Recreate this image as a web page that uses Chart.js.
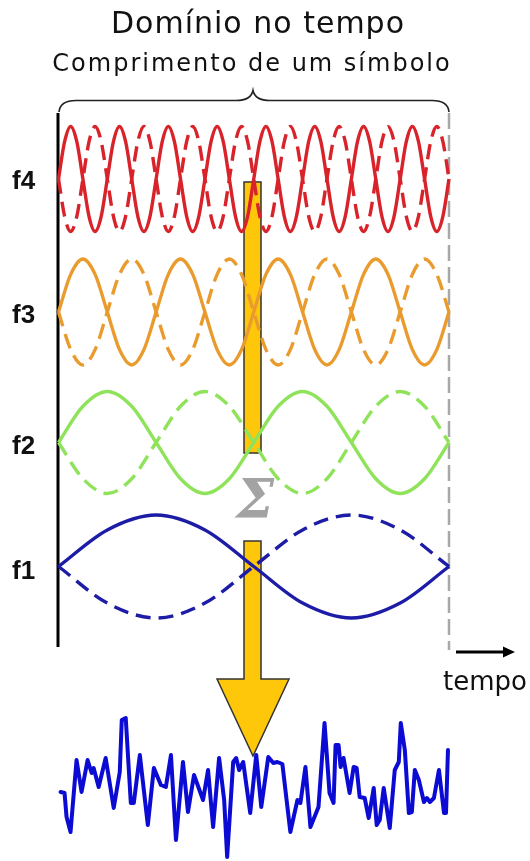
<!DOCTYPE html>
<html>
<head>
<meta charset="utf-8">
<script src="https://cdn.jsdelivr.net/npm/chart.js@4/dist/chart.umd.min.js"></script>
<style>
  html, body { margin: 0; padding: 0; background: #fff; }
  #wrap { position: relative; width: 530px; height: 861px; overflow: hidden; }
  #wrap canvas { position: absolute; left: 0; top: 0; }
  .t { position: absolute; white-space: nowrap; line-height: 1; }
  .title { font-family: "DejaVu Sans", sans-serif; color: #111; text-align: center; }
  .flab { font-family: "Liberation Sans", Arial, sans-serif; font-weight: bold; font-size: 26px; color: #111; left: 12px; }
</style>
</head>
<body>
<div id="wrap">
  <canvas id="c" width="530" height="861"></canvas>
  <div class="t title" style="left:0; width:516px; top:8px; font-size:30px; letter-spacing:1px;">Domínio no tempo</div>
  <div class="t title" style="left:0; width:504px; top:51px; font-size:24px; letter-spacing:2px;">Comprimento de um símbolo</div>
  <div class="t flab" style="top:167px;">f4</div>
  <div class="t flab" style="top:301px;">f3</div>
  <div class="t flab" style="top:432px;">f2</div>
  <div class="t flab" style="top:557px;">f1</div>
  <div class="t" style="left:224px; width:62px; top:472px; text-align:center; font-family:'DejaVu Serif', serif; font-style:italic; font-weight:bold; font-size:54px; color:#a3a3a3;">Σ</div>
  <div class="t" style="left:443px; top:668px; font-family:'DejaVu Sans', sans-serif; font-size:26px; color:#111;">tempo</div>
</div>
<script>
// ---- Data (time in 1/64 of a symbol, amplitudes in normalised units) ----
const TIME_F1 = [0, 8, 16, 24, 32, 40, 48, 56, 64];
const TIME_F2 = [0, 4, 8, 12, 16, 20, 24, 28, 32, 36, 40, 44, 48, 52, 56, 60, 64];
const TIME_F3 = [0, 2, 4, 6, 8, 10, 12, 14, 16, 18, 20, 22, 24, 26, 28, 30, 32,
                 34, 36, 38, 40, 42, 44, 46, 48, 50, 52, 54, 56, 58, 60, 62, 64];
const TIME_F4 = [0, 1, 2, 3, 4, 5, 6, 7, 8, 9, 10, 11, 12, 13, 14, 15, 16,
                 17, 18, 19, 20, 21, 22, 23, 24, 25, 26, 27, 28, 29, 30, 31, 32,
                 33, 34, 35, 36, 37, 38, 39, 40, 41, 42, 43, 44, 45, 46, 47, 48,
                 49, 50, 51, 52, 53, 54, 55, 56, 57, 58, 59, 60, 61, 62, 63, 64];

const F1_SOLID  = [0, 0.71, 1, 0.71, 0, -0.71, -1, -0.71, 0];
const F1_DASHED = [0, -0.71, -1, -0.71, 0, 0.71, 1, 0.71, 0];

const F2_SOLID  = [0, 0.71, 1, 0.71, 0, -0.71, -1, -0.71, 0, 0.71, 1, 0.71, 0, -0.71, -1, -0.71, 0];
const F2_DASHED = [0, -0.71, -1, -0.71, 0, 0.71, 1, 0.71, 0, -0.71, -1, -0.71, 0, 0.71, 1, 0.71, 0];

const F3_SOLID  = [0, 0.71, 1, 0.71, 0, -0.71, -1, -0.71, 0, 0.71, 1, 0.71, 0, -0.71, -1, -0.71,
                   0, 0.71, 1, 0.71, 0, -0.71, -1, -0.71, 0, 0.71, 1, 0.71, 0, -0.71, -1, -0.71, 0];
const F3_DASHED = [0, -0.71, -1, -0.71, 0, 0.71, 1, 0.71, 0, -0.71, -1, -0.71, 0, 0.71, 1, 0.71,
                   0, -0.71, -1, -0.71, 0, 0.71, 1, 0.71, 0, -0.71, -1, -0.71, 0, 0.71, 1, 0.71, 0];

const F4_SOLID  = [0, 0.71, 1, 0.71, 0, -0.71, -1, -0.71, 0, 0.71, 1, 0.71, 0, -0.71, -1, -0.71,
                   0, 0.71, 1, 0.71, 0, -0.71, -1, -0.71, 0, 0.71, 1, 0.71, 0, -0.71, -1, -0.71,
                   0, 0.71, 1, 0.71, 0, -0.71, -1, -0.71, 0, 0.71, 1, 0.71, 0, -0.71, -1, -0.71,
                   0, 0.71, 1, 0.71, 0, -0.71, -1, -0.71, 0, 0.71, 1, 0.71, 0, -0.71, -1, -0.71, 0];
const F4_DASHED = [0, -0.71, -1, -0.71, 0, 0.71, 1, 0.71, 0, -0.71, -1, -0.71, 0, 0.71, 1, 0.71,
                   0, -0.71, -1, -0.71, 0, 0.71, 1, 0.71, 0, -0.71, -1, -0.71, 0, 0.71, 1, 0.71,
                   0, -0.71, -1, -0.71, 0, 0.71, 1, 0.71, 0, -0.71, -1, -0.71, 0, 0.71, 1, 0.71,
                   0, -0.71, -1, -0.71, 0, 0.71, 1, 0.71, 0, -0.71, -1, -0.71, 0, 0.71, 1, 0.71, 0];

const NOISE_T = [0.33, 0.99, 1.32, 1.97, 2.96, 3.78, 4.77, 5.43, 5.76, 6.58, 7.73, 9.05, 10.04, 10.37,
                 11.02, 11.85, 12.34, 13.33, 14.64, 15.63, 16.78, 17.6, 18.43, 19.25, 20.4, 21.22,
                 22.21, 23.69, 24.51, 25.34, 26.32, 27.15, 27.64, 28.63, 29.12, 29.61, 30.27, 31.42,
                 32.41, 33.23, 34.38, 35.21, 35.86, 36.69, 38.0, 39.16, 39.65, 40.47, 41.29, 42.61,
                 43.6, 44.42, 45.08, 45.41, 45.9, 46.23, 46.72, 47.71, 48.37, 48.86, 49.36, 50.18,
                 50.84, 51.66, 52.15, 52.65, 53.3, 54.29, 55.11, 55.77, 56.1, 56.76, 57.42, 57.91,
                 58.4, 59.06, 59.89, 60.38, 60.87, 61.53, 62.35, 63.18, 63.51, 63.83];
const NOISE_V = [-0.2, -0.3, -2.7, -4.2, 3.0, -0.2, 3.0, 1.7, 2.2, 0.3, 3.2, -1.8, 1.8, 7.0,
                 7.2, -1.3, -1.3, 3.5, -3.5, 2.2, 0.5, 0.3, 3.5, -5.0, 2.8, -2.2,
                 1.5, -1.0, 2.0, -3.7, 3.2, -1.0, -6.7, 2.8, 3.2, 2.0, 2.8, -2.3,
                 3.5, -1.7, 3.3, 2.7, 2.8, 2.6, -4.2, -1.0, -1.3, 2.3, -3.7, -1.7,
                 6.7, -0.3, -1.3, 4.5, 4.5, 2.3, 3.2, -0.3, 2.3, 2.2, -0.7, -0.8,
                 -2.8, 0.2, -3.5, -3.0, 0.2, -3.8, 2.0, 2.8, 6.7, 4.0, -2.3, -2.2,
                 2.0, 1.0, -1.2, -0.8, -1.2, -0.8, 2.0, -2.3, -2.3, 4.0];

// ---- Layout (pixels) ----
const W = 530, H = 861;
const X0 = 58.5, X1 = 449, SYMBOL_UNITS = 64;
const PX_PER_UNIT = (X1 - X0) / SYMBOL_UNITS;
const BANDS = {
  yF4:    { center: 179,   amp: 52.5 },
  yF3:    { center: 312,   amp: 53 },
  yF2:    { center: 442.5, amp: 51 },
  yF1:    { center: 566.5, amp: 51.5 },
  yNoise: { center: 790,   amp: 10 }
};

const RED = '#d8232a', ORANGE = '#e99b2e', GREEN = '#8fe35a', BLUE1 = '#1c1ca6', NOISE = '#0b0bd4';
const DASH = [15, 8];

function pts(xs, ys) { return xs.map((x, i) => ({ x: x, y: ys[i] })); }
function wave(label, xs, ys, color, axis, dashed) {
  return {
    label, data: pts(xs, ys), yAxisID: axis,
    borderColor: color, borderWidth: 3.4, borderDash: dashed ? DASH : [],
    pointRadius: 0, cubicInterpolationMode: 'monotone', fill: false
  };
}

const yScales = {};
for (const id in BANDS) {
  const b = BANDS[id];
  yScales[id] = { type: 'linear', display: false, bounds: 'data',
                  min: -(H - b.center) / b.amp, max: b.center / b.amp };
}

const decor = {
  id: 'decor',
  beforeDatasetsDraw(chart) {
    const ctx = chart.ctx;
    ctx.save();
    // brace
    ctx.strokeStyle = '#222'; ctx.lineWidth = 1.6; ctx.setLineDash([]);
    ctx.beginPath();
    ctx.moveTo(59, 112);
    ctx.quadraticCurveTo(60, 100.5, 76, 100.5);
    ctx.lineTo(236, 100.5);
    ctx.quadraticCurveTo(251, 100.5, 253, 90.5);
    ctx.quadraticCurveTo(255, 100.5, 270, 100.5);
    ctx.lineTo(432, 100.5);
    ctx.quadraticCurveTo(448, 100.5, 449, 112);
    ctx.stroke();
    // left black axis line
    ctx.strokeStyle = '#000'; ctx.lineWidth = 3;
    ctx.beginPath(); ctx.moveTo(58, 113); ctx.lineTo(58, 647); ctx.stroke();
    // right gray dashed line
    ctx.strokeStyle = '#a8a8a8'; ctx.lineWidth = 2.5; ctx.setLineDash([16, 6]);
    ctx.beginPath(); ctx.moveTo(449, 113); ctx.lineTo(449, 650); ctx.stroke();
    ctx.setLineDash([]);
    // tempo arrow
    ctx.strokeStyle = '#000'; ctx.fillStyle = '#000'; ctx.lineWidth = 3;
    ctx.beginPath(); ctx.moveTo(456, 652); ctx.lineTo(505, 652); ctx.stroke();
    ctx.beginPath(); ctx.moveTo(515, 652); ctx.lineTo(503, 646.5); ctx.lineTo(503, 657.5); ctx.closePath(); ctx.fill();
    // orange sum arrow
    ctx.fillStyle = '#ffc70a'; ctx.strokeStyle = '#333'; ctx.lineWidth = 1.5;
    ctx.beginPath(); ctx.rect(244, 182, 17, 271); ctx.fill(); ctx.stroke();
    ctx.beginPath();
    ctx.moveTo(244, 541); ctx.lineTo(244, 679); ctx.lineTo(217, 679); ctx.lineTo(253, 756);
    ctx.lineTo(289, 679); ctx.lineTo(261, 679); ctx.lineTo(261, 541); ctx.closePath();
    ctx.fill(); ctx.stroke();
    ctx.restore();
  }
};

new Chart(document.getElementById('c'), {
  type: 'line',
  data: {
    datasets: [
      wave('f4', TIME_F4, F4_DASHED, RED, 'yF4', true),
      wave('f4', TIME_F4, F4_SOLID, RED, 'yF4', false),
      wave('f3', TIME_F3, F3_DASHED, ORANGE, 'yF3', true),
      wave('f3', TIME_F3, F3_SOLID, ORANGE, 'yF3', false),
      wave('f2', TIME_F2, F2_DASHED, GREEN, 'yF2', true),
      wave('f2', TIME_F2, F2_SOLID, GREEN, 'yF2', false),
      wave('f1', TIME_F1, F1_DASHED, BLUE1, 'yF1', true),
      wave('f1', TIME_F1, F1_SOLID, BLUE1, 'yF1', false),
      { label: 'soma', data: pts(NOISE_T, NOISE_V), yAxisID: 'yNoise',
        borderColor: NOISE, borderWidth: 4, pointRadius: 0, tension: 0,
        borderJoinStyle: 'round', borderCapStyle: 'round', fill: false }
    ]
  },
  options: {
    responsive: false, animation: false, events: [],
    layout: { padding: 0 },
    plugins: { legend: { display: false }, tooltip: { enabled: false }, title: { display: false } },
    scales: Object.assign({
      x: { type: 'linear', display: false, bounds: 'data',
           min: -X0 / PX_PER_UNIT, max: (W - X0) / PX_PER_UNIT }
    }, yScales)
  },
  plugins: [decor]
});
</script>
</body>
</html>
